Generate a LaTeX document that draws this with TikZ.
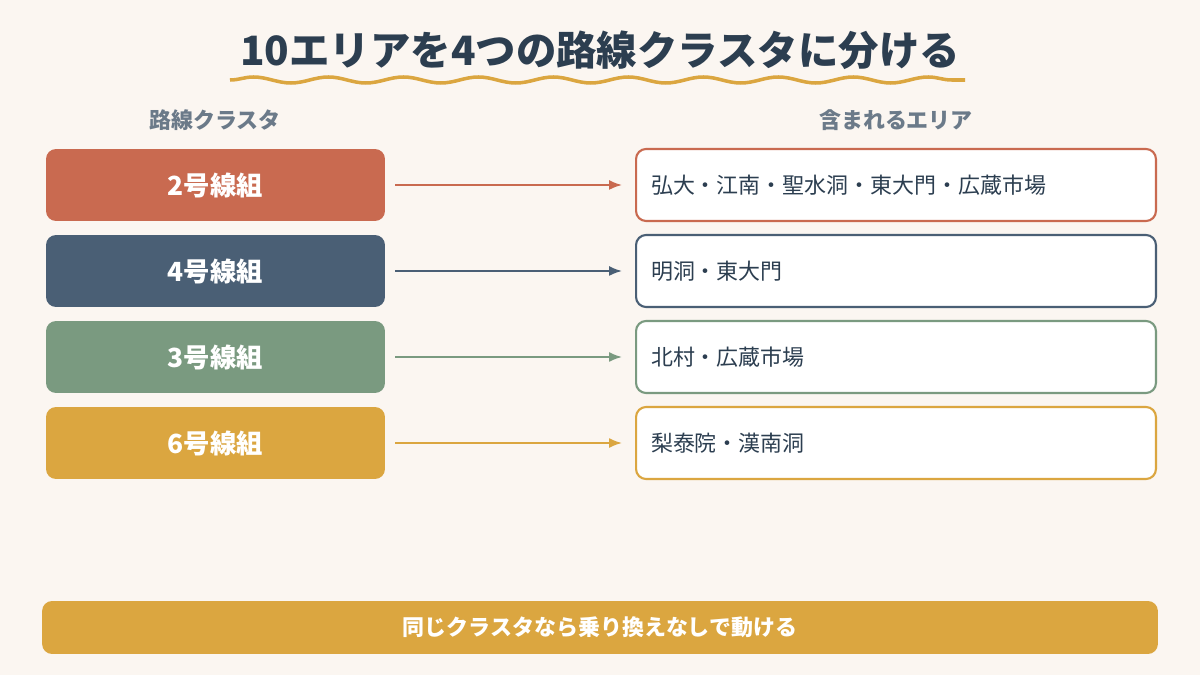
\documentclass[tikz,border=0pt]{standalone}
\usepackage{fontspec}
\setmainfont{Noto Sans CJK JP}
\usetikzlibrary{arrows.meta,decorations.pathmorphing,positioning}
\definecolor{bgc}{HTML}{FBF6F1}
\definecolor{ttl}{HTML}{2C3E50}
\definecolor{hdr}{HTML}{6B7A89}
\definecolor{lnA}{HTML}{C96A50}
\definecolor{lnB}{HTML}{4A5F75}
\definecolor{lnC}{HTML}{7A9A80}
\definecolor{lnD}{HTML}{DBA640}
\tikzset{
    line/.style = {rectangle, rounded corners=0.2cm, minimum width=6.78cm,
        minimum height=1.44cm, text=white, font=\fontsize{15}{18}\selectfont\bfseries},
    area/.style = {draw, rectangle, rounded corners=0.2cm, fill=white, line width=1.2pt,
        minimum width=10.4cm, minimum height=1.44cm, text width=9.8cm, align=left,
        text=ttl, font=\fontsize{12.5}{15}\selectfont},
    head/.style = {text=hdr, font=\fontsize{12.5}{15}\selectfont\bfseries},
    arrow/.style = {draw, -{Latex[length=2.6mm,width=2mm]}, line width=1pt}
}
\begin{document}
\begin{tikzpicture}[x=0.02cm,y=-0.02cm]
    \fill[bgc] (0,0) rectangle (1200,675);
    \node[text=ttl, font=\fontsize{23}{27}\selectfont\bfseries] (title) at (600,50) {10エリアを4つの路線クラスタに分ける};
    \draw[lnD, line width=2pt, decorate, decoration={snake, amplitude=0.06cm, segment length=1.5cm}] (230,80) -- (965,80);
    \node[head] (hl) at (215,120) {路線クラスタ};
    \node[head] (hr) at (896,120) {含まれるエリア};
    \foreach \i/\c/\n/\t/\y in {1/lnA/2/弘大・江南・聖水洞・東大門・広蔵市場/185,
                              2/lnB/4/明洞・東大門/271,
                              3/lnC/3/北村・広蔵市場/357,
                              4/lnD/6/梨泰院・漢南洞/443}{
        \node[line, fill=\c] (grp\i) at (215.5,\y) {\n 号線組};
        \node[area, draw=\c] (ar\i) at (896,\y) {\t};
        \draw[arrow, \c] ([xshift=0.2cm]grp\i.east) -- ([xshift=-0.26cm]ar\i.west);
    }
    \node[rectangle, rounded corners=0.2cm, fill=lnD, minimum width=22.32cm, minimum height=1.06cm,
        text=white, font=\fontsize{12.5}{15}\selectfont\bfseries] (note) at (600,627.5) {同じクラスタなら乗り換えなしで動ける};
\end{tikzpicture}
\end{document}
